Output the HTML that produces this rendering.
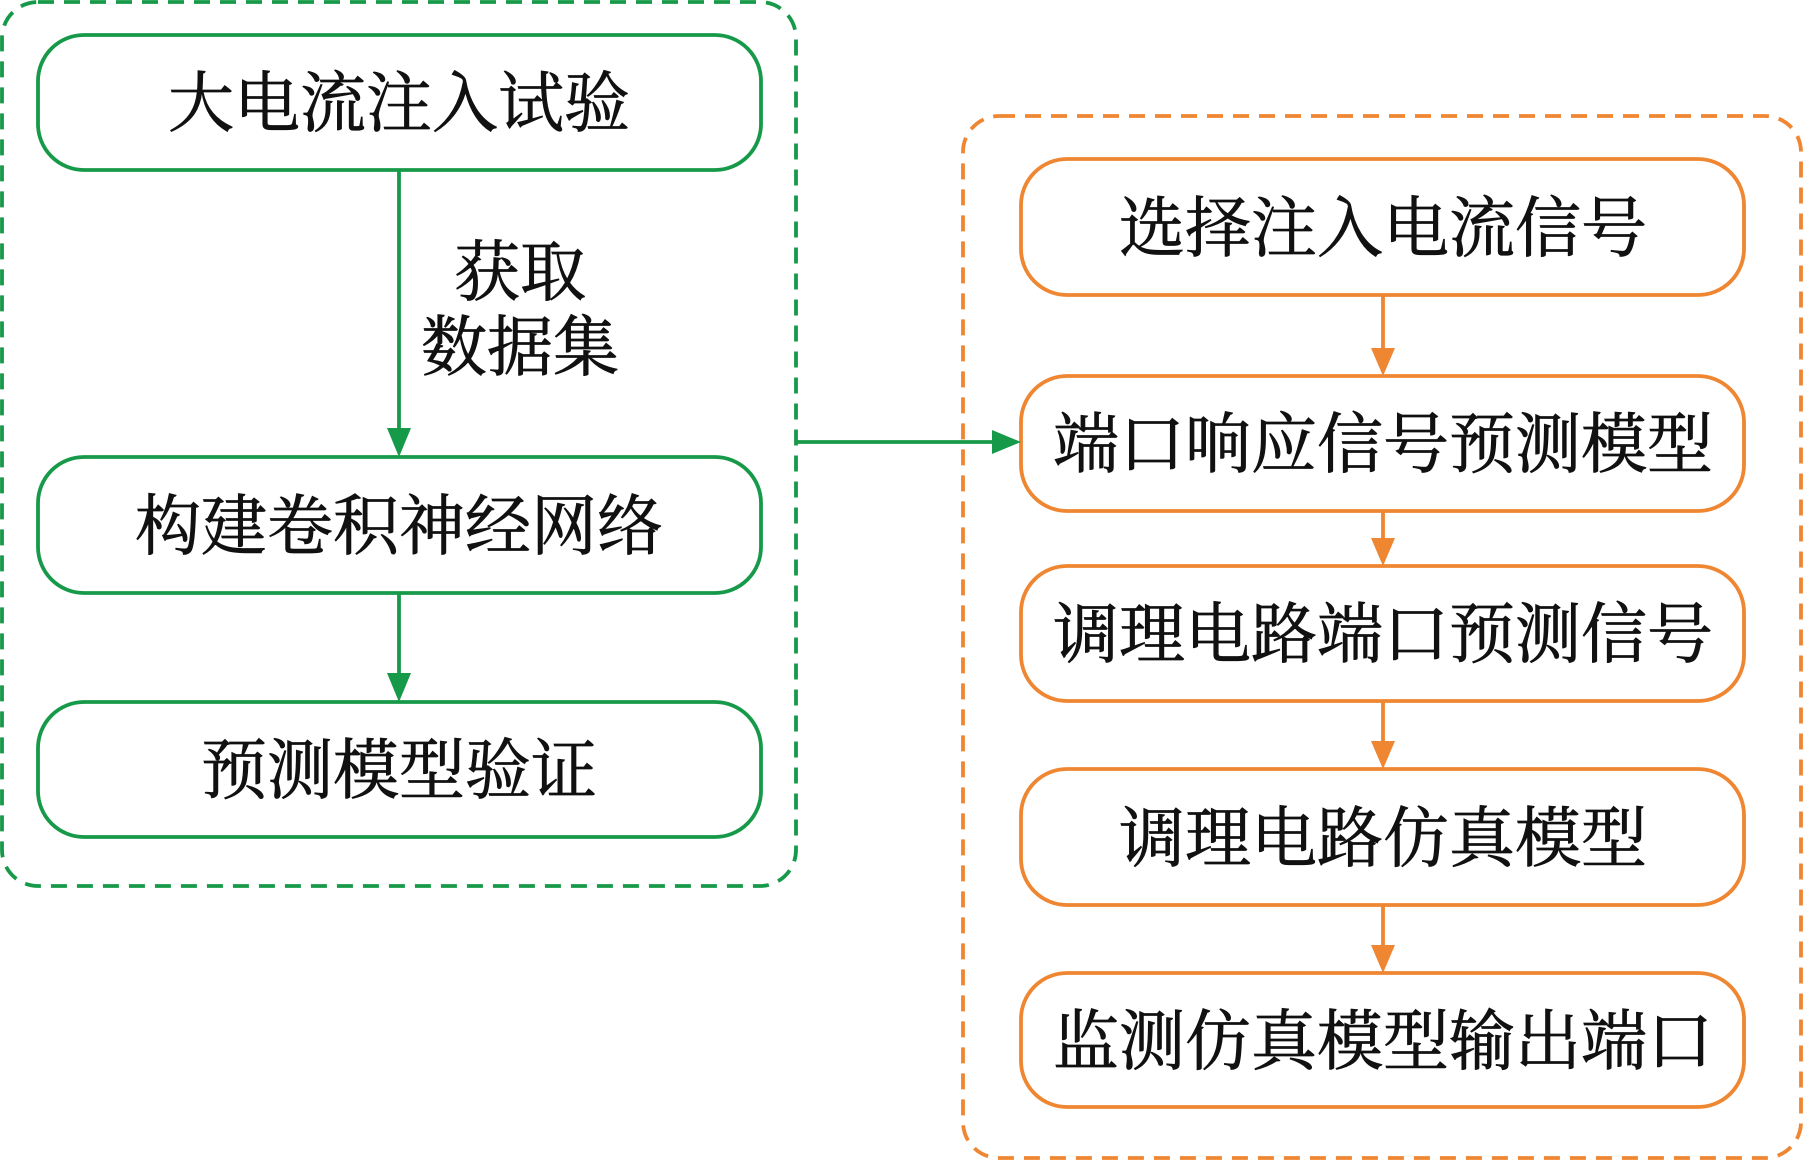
<!DOCTYPE html>
<html><head><meta charset="utf-8"><style>
html,body{margin:0;padding:0;background:#fff;}
svg text{font-family:"Liberation Serif","Noto Serif CJK SC","Noto Sans CJK SC",serif;fill:#111;stroke:#111;stroke-width:0.8;}
</style></head><body>
<svg width="1805" height="1162" viewBox="0 0 1805 1162" xmlns="http://www.w3.org/2000/svg">
<g fill="none" stroke-width="3.8">
<rect x="2" y="2" width="794" height="884" rx="36" stroke="#17994a" stroke-dasharray="16,10"/>
<rect x="963" y="116" width="838" height="1042" rx="36" stroke="#ef8632" stroke-dasharray="16,10"/>
<g stroke="#17994a">
<rect x="38" y="35" width="723" height="135" rx="46"/>
<rect x="38" y="457" width="723" height="136" rx="46"/>
<rect x="38" y="702" width="723" height="135" rx="46"/>
<line x1="399" y1="170" x2="399" y2="430"/>
<line x1="399" y1="593" x2="399" y2="675"/>
<line x1="797" y1="442" x2="995" y2="442"/>
</g>
<g stroke="#ef8632">
<rect x="1021" y="159" width="723" height="136" rx="46"/>
<rect x="1021" y="376" width="723" height="135" rx="46"/>
<rect x="1021" y="566" width="723" height="135" rx="46"/>
<rect x="1021" y="769" width="723" height="136" rx="46"/>
<rect x="1021" y="973" width="723" height="134" rx="46"/>
<line x1="1383" y1="295" x2="1383" y2="350"/>
<line x1="1383" y1="511" x2="1383" y2="540"/>
<line x1="1383" y1="701" x2="1383" y2="742"/>
<line x1="1383" y1="905" x2="1383" y2="946"/>
</g>
</g>
<g fill="#17994a">
<path d="M387,428 L411,428 L399,457 Z"/>
<path d="M387,673 L411,673 L399,702 Z"/>
<path d="M992,430 L992,454 L1021,442 Z"/>
</g>
<g fill="#ef8632">
<path d="M1371,348 L1395,348 L1383,376 Z"/>
<path d="M1371,538 L1395,538 L1383,566 Z"/>
<path d="M1371,741 L1395,741 L1383,769 Z"/>
<path d="M1371,945 L1395,945 L1383,973 Z"/>
</g>
<g font-size="66" text-anchor="middle">
<text x="399" y="126">大电流注入试验</text>
<text x="399" y="549">构建卷积神经网络</text>
<text x="399" y="793">预测模型验证</text>
<text x="520" y="295">获取</text>
<text x="520" y="370">数据集</text>
<text x="1383" y="251">选择注入电流信号</text>
<text x="1383" y="467">端口响应信号预测模型</text>
<text x="1383" y="657">调理电路端口预测信号</text>
<text x="1383" y="861">调理电路仿真模型</text>
<text x="1383" y="1064">监测仿真模型输出端口</text>
</g>
</svg>
</body></html>
